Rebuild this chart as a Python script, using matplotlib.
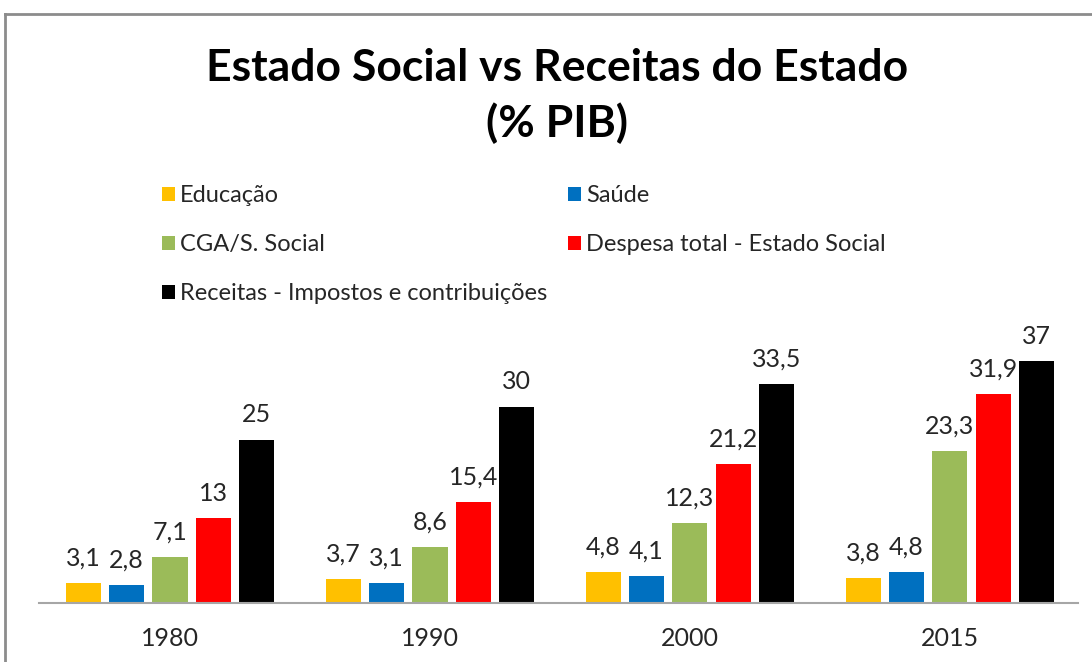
import matplotlib
matplotlib.use("Agg")
import matplotlib.pyplot as plt
import numpy as np
from matplotlib.lines import Line2D

plt.rcParams["font.family"] = ["Lato", "DejaVu Sans"]

years = ["1980", "1990", "2000", "2015"]
series = ["Educação", "Saúde", "CGA/S. Social",
          "Despesa total - Estado Social", "Receitas - Impostos e contribuições"]
educacao = [3.1, 3.7, 4.8, 3.8]
saude = [2.8, 3.1, 4.1, 4.8]
cga = [7.1, 8.6, 12.3, 23.3]
despesa = [13, 15.4, 21.2, 31.9]
receitas = [25, 30, 33.5, 37]
colors = ["#FFC000", "#0070C0", "#9BBB59", "#FF0000", "#000000"]


def fmt(v):
    s = f"{v:g}"
    return s.replace(".", ",")


fig = plt.figure(figsize=(10.92, 6.62), dpi=100)
ax = fig.add_axes([0.0357, 0.0891, 0.9513, 0.3952])

x = np.arange(len(years))
pitch, width = 0.167, 0.135
bars = []
for k, (name, vals, c) in enumerate(zip(series, [educacao, saude, cga, despesa, receitas], colors)):
    b = ax.bar(x + (k - 2) * pitch, vals, width, color=c, label=name)
    bars.append(b)
    for xi, v in zip(x + (k - 2) * pitch, vals):
        ax.annotate(fmt(v), (xi, v), xytext=(0, 12.5), textcoords="offset points",
                    ha="center", va="baseline", fontsize=18, color="#262626")

ax.set_xlim(-0.504, 3.492)
ax.set_ylim(0, 40)
ax.set_xticks(x)
ax.set_xticklabels(years, fontsize=18, color="#262626")
ax.tick_params(axis="x", length=0, pad=17)
ax.set_yticks([])
for s in ["top", "right", "left"]:
    ax.spines[s].set_visible(False)
ax.spines["bottom"].set_color("#a6a6a6")
ax.spines["bottom"].set_linewidth(1.5)

fig.text(0.51, 0.855, "Estado Social vs Receitas do Estado\n(% PIB)", ha="center", va="center",
         fontsize=32, fontweight="bold", linespacing=1.4)

order = [0, 2, 4, 1, 3]
fig.legend([bars[i] for i in order], [series[i] for i in order], ncol=2,
           loc="upper left", bbox_to_anchor=(0.129, 0.752), frameon=False,
           fontsize=17, handlelength=0.55, handleheight=0.55, handletextpad=0.2,
           labelspacing=1.18, columnspacing=0.9, labelcolor="#262626")

# outer chart frame
fig.add_artist(Line2D([5 / 1092, 1.0], [1 - 14 / 662, 1 - 14 / 662], color="#8c8c8c", lw=2))
fig.add_artist(Line2D([5 / 1092, 5 / 1092], [0, 1 - 14 / 662], color="#8c8c8c", lw=2))

fig.savefig("out.png", dpi=100)
